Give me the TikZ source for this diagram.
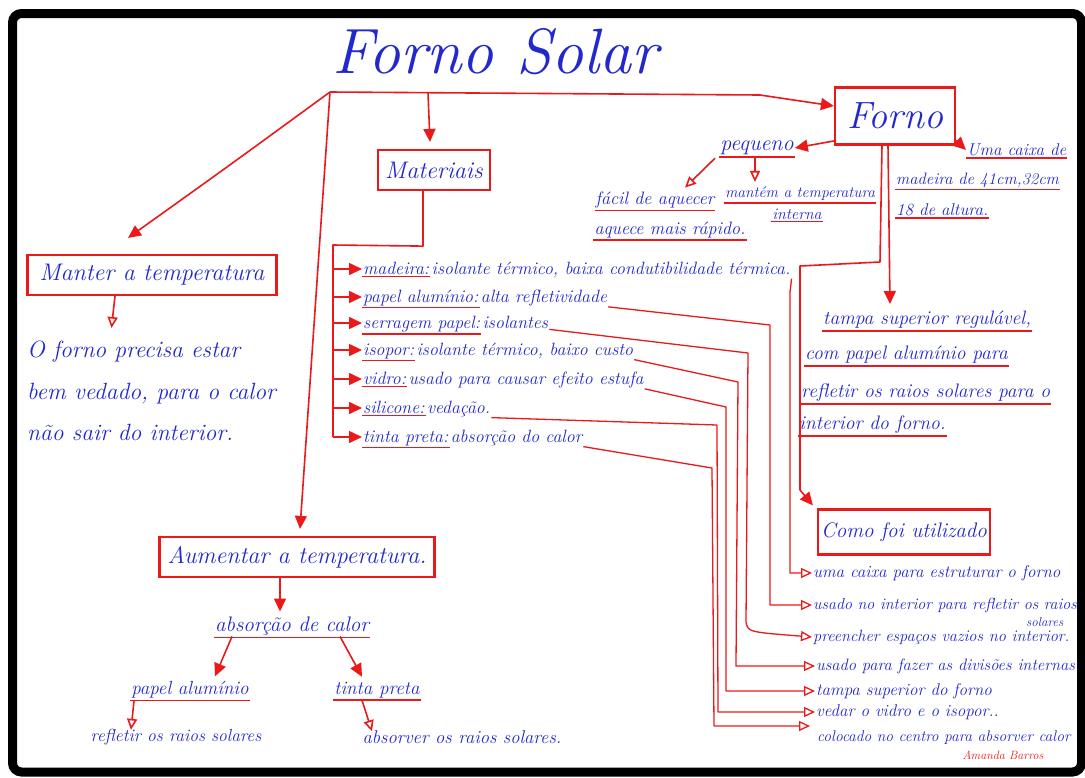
\documentclass[tikz,border=0pt]{standalone}
\usetikzlibrary{arrows.meta,calc}
\definecolor{ink}{RGB}{35,40,205}
\definecolor{pen}{RGB}{235,25,25}
\newcommand{\fs}[1]{\fontsize{#1}{#1}\selectfont\itshape}
\tikzset{
  x=1pt, y=-1pt,
  txt/.style={text=ink, inner sep=1pt, font=\fs{#1}},
  txt/.default=17,
  penline/.style={draw=pen, line width=1.6pt, line join=round},
  thinline/.style={draw=pen, line width=1.3pt, line join=round},
  box/.style={draw=pen, line width=2.2pt, text=ink, inner sep=2pt},
  ul/.style={append after command={([yshift=-1pt]\tikzlastnode.south west) edge[penline] ([yshift=-1pt]\tikzlastnode.south east)}},
  solid tip/.style={-{Triangle[length=13pt,width=12pt]}},
  open tip/.style={-{Triangle[open,length=11pt,width=10pt,fill=white]}},
}
\begin{document}
\begin{tikzpicture}
\useasboundingbox (0,0) rectangle (1085,777);
\clip (0,0) rectangle (1085,777);
\fill[white] (0,0) rectangle (1085,777);

% ---- title and main branches
\node[txt=64] (title) at (495,52) {Forno Solar};
\coordinate (hub) at (330,92);
\coordinate (mat0) at (428,93);
\coordinate (bend) at (760,95);

\node[box, minimum width=120pt, minimum height=57pt, font=\fs{38}] (forno) at (895,116) {Forno};
\node[box, minimum width=112pt, minimum height=40pt, font=\fs{24}] (mat) at (434,170) {Materiais};
\node[box, minimum width=249pt, minimum height=40pt, font=\fs{24}] (manter) at (152,275) {Manter a temperatura};
\node[box, minimum width=275pt, minimum height=40pt, font=\fs{24}] (aum) at (297,557) {Aumentar a temperatura.};
\node[box, minimum width=172pt, minimum height=45pt, font=\fs{21}] (como) at (904,532) {Como foi utilizado};

\draw[penline] (hub) -- (bend);
\draw[penline, solid tip] (bend) -- ([yshift=10pt]forno.west);
\draw[penline, solid tip] (mat0) -- ($(mat.north)+(-4,-7)$);
\draw[penline, solid tip] (hub) .. controls (230,165) .. ($(manter.north)+(-24,-16)$);
\draw[penline, solid tip] (hub) -- ($(aum.north)+(3,-7)$);

% ---- Forno: small details
\node[txt=22, ul] (peq) at (757,148) {pequeno};
\node[txt=18, ul] (fac) at (655,200) {fácil de aquecer};
\node[txt=18, ul] (aq) at (670,230) {aquece mais rápido.};
\node[txt=15.5, ul] (mant) at (800,194) {mantém a temperatura};
\node[txt=16, ul] (inter) at (797,214) {interna};
\node[txt=17, ul, anchor=west] (cx1) at (966,150) {Uma caixa de};
\node[txt=16.5, ul, anchor=west] (cx2) at (895,180) {madeira de 41cm,32cm};
\node[txt=17, ul, anchor=west] (cx3) at (895,210) {18 de altura.};

\draw[penline, solid tip] ($(forno.south west)+(2,-5)$) -- (peq.east);
\draw[penline, open tip] ($(peq.south)+(-42,2)$) -- ($(fac.north)+(30,-3)$);
\draw[penline, open tip] ($(peq.south)+(-2,2)$) -- ($(mant.north)+(-45,-4)$);
\draw[penline, solid tip] ($(forno.south east)+(0,-5)$) -- (cx1.west);

% ---- Forno: lid
\node[txt=19.5, ul, anchor=west] (t1) at (822,320) {tampa superior regulável,};
\node[txt=19.5, ul, anchor=west] (t2) at (804,355) {com papel alumínio para};
\node[txt=19.5, ul, anchor=west] (t3) at (800,393) {refletir os raios solares para o};
\node[txt=19.5, ul, anchor=west] (t4) at (798,425) {interior do forno.};

\coordinate (fa) at ($(forno.south)+(-13,0)$);
\coordinate (fb) at ($(forno.south)+(-7,0)$);
\draw[penline] (fa) -- (880,262) -- (800,266) -- (800,490);
\draw[penline, solid tip] (800,490) -- ($(como.north west)+(-4,-3)$);
\draw[penline, solid tip] (fb) -- ($(fb |- t1.north)+(2,-6)$);

% ---- Manter a temperatura
\node[txt=23.5, anchor=north west, align=left, text depth=0pt] (mtxt) at (26,340)
  {O forno precisa estar\\[18pt]bem vedado, para o calor\\[18pt]não sair do interior.};
\draw[penline, open tip] ($(manter.south)+(-37,0)$) -- ($(mtxt.north)+(-40,-12)$);

% ---- Materiais list
\coordinate (spine) at (333,245);
\draw[penline] ($(mat.south)+(-11,0)$) -- ++(0,55) -- (spine) -- (333,437);
\foreach \n/\y/\k/\d in {
  1/274/madeira:/isolante térmico{,} baixa condutibilidade térmica.,
  2/302/papel alumínio:/alta refletividade,
  3/328/serragem papel:/isolantes,
  4/355/isopor:/isolante térmico{,} baixo custo,
  5/384/vidro:/usado para causar efeito estufa,
  6/413/silicone:/vedação.,
  7/442/tinta preta:/absorção do calor}{
  \node[txt=17.8, ul, anchor=base west] (k\n) at (362,\y) {\k};
  \node[txt=17.8, anchor=base west] (d\n) at (k\n.base east) {\d};
  \coordinate (a\n) at ([yshift=5pt]k\n.base west);
  \draw[penline, solid tip] (a\n -| spine) -- (a\n);
}

% ---- Como foi utilizado list
\node[txt=17, anchor=west] (c1) at (812,573) {uma caixa para estruturar o forno};
\node[txt=16, anchor=west] (c2) at (812,605) {usado no interior para refletir os raios};
\node[txt=13, anchor=west] (c2b) at (1025,622) {solares};
\node[txt=16.3, anchor=west] (c3) at (812,637) {preencher espaços vazios no interior.};
\node[txt=16.5, anchor=west] (c4) at (815,666) {usado para fazer as divisões internas};
\node[txt=17, anchor=west] (c5) at (815,691) {tampa superior do forno};
\node[txt=17, anchor=west] (c6) at (815,712) {vedar o vidro e o isopor..};
\node[txt=15.5, anchor=west] (c7) at (816,738) {colocado no centro para absorver calor};
\node[text=pen, font=\fs{12}, inner sep=1pt] (sig) at (1003,755) {Amanda Barros};
\coordinate (c7tip) at ($(c7.west)+(-6,-12)$);

\draw[thinline, open tip] (d1.south east) -- (790,292) -- (790,0 |- c1.west) -- (c1.west);
\draw[thinline, open tip] (d2.south east) -- (770,325) -- (770,0 |- c2.west) -- (c2.west);
\draw[thinline, open tip] (d3.south east) -- (748,353) -- (746,622) .. controls (748,632) .. (c3.west);
\draw[thinline, open tip] (d4.south east) -- (738,382) -- (736,0 |- c4.west) -- (c4.west);
\draw[thinline, open tip] (d5.south east) -- (726,407) -- (726,0 |- c5.west) -- (c5.west);
\draw[thinline, open tip] (d6.south east) -- (717,425) -- (718,0 |- c6.west) -- (c6.west);
\draw[thinline, open tip] (d7.south east) -- (712,468) -- (714,0 |- c7tip) -- (c7tip);

% ---- Aumentar a temperatura
\node[txt=21, ul] (abs) at (292,626) {absorção de calor};
\node[txt=19, ul] (pal) at (190,690) {papel alumínio};
\node[txt=19, ul] (tp) at (377,690) {tinta preta};
\node[txt=17.5] (ref) at (176,737) {refletir os raios solares};
\node[txt=18.5] (absv) at (462,737) {absorver os raios solares.};

\draw[penline, solid tip] ($(aum.south)+(-17,0)$) -- ($(abs.north)+(-12,-4)$);
\draw[penline, solid tip] ($(abs.south)+(-60,0)$) -- ($(pal.north)+(25,-4)$);
\draw[penline, solid tip] ($(abs.south)+(48,0)$) -- ($(tp.north)+(-15,-4)$);
\draw[penline, open tip] ($(pal.south)+(-56,1)$) -- ($(ref.north)+(-45,2)$);
\draw[penline, open tip] ($(tp.south)+(-15,1)$) -- ($(absv.north)+(-90,2)$);

% ---- sheet frame
\draw[black, line width=9pt, rounded corners=9pt] (12.5,13.5) rectangle (1081.5,772);
\end{tikzpicture}
\end{document}
